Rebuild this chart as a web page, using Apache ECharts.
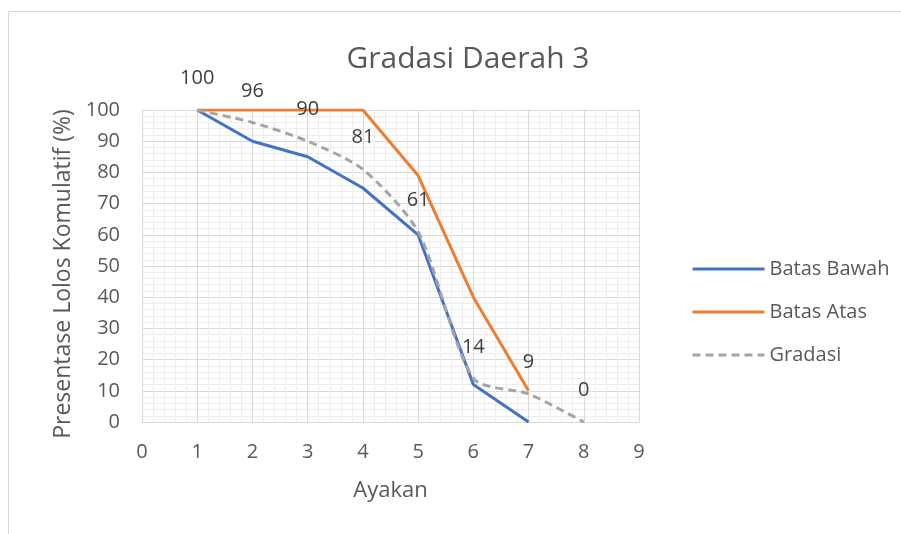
<!DOCTYPE html>
<html>
<head>
<meta charset="utf-8">
<script src="https://cdn.jsdelivr.net/npm/echarts@6/dist/echarts.min.js"></script>
<style>
  html, body { margin: 0; padding: 0; background: #fff; }
  #chart { width: 901px; height: 534px; }
</style>
</head>
<body>
<div id="chart"></div>
<script>
var xTicks = [0, 1, 2, 3, 4, 5, 6, 7, 8, 9];
var yTicks = [0, 10, 20, 30, 40, 50, 60, 70, 80, 90, 100];

var bawahX = [1, 2, 3, 4, 5, 6, 7];
var bawahY = [100, 90, 85, 75, 60, 12, 0];

var atasX = [1, 4, 5, 6, 7];
var atasY = [100, 100, 79, 40, 10];

var gradasiX = [1, 2, 3, 4, 5, 6, 7, 8];
var gradasiY = [100, 96, 90, 81, 61, 14, 9, 0];

function pairs(xs, ys) {
  return xs.map(function (x, i) { return [x, ys[i]]; });
}

var chart = echarts.init(document.getElementById('chart'), null, { renderer: 'canvas' });

var font = '"Open Sans", "Noto Sans", sans-serif';
var textColor = '#595959';

var option = {
  animation: false,
  textStyle: { fontFamily: font },
  graphic: [{
    type: 'rect',
    shape: { x: 8.5, y: 11.5, width: 1000, height: 1000 },
    style: { fill: 'none', stroke: '#d9d9d9', lineWidth: 1 },
    silent: true
  }],
  title: {
    text: 'Gradasi Daerah 3',
    left: 463,
    top: 39,
    textAlign: 'center',
    textStyle: { fontFamily: font, fontSize: 30, fontWeight: 'normal', color: textColor }
  },
  legend: {
    orient: 'vertical',
    left: 686,
    top: 254,
    itemWidth: 72,
    itemHeight: 14,
    itemGap: 23,
    itemStyle: { opacity: 0 },
    lineStyle: { width: 3 },
    textStyle: { fontFamily: font, fontSize: 20, color: textColor },
    data: ['Batas Bawah', 'Batas Atas', 'Gradasi']
  },
  grid: { left: 142, right: 262, top: 110, bottom: 112, containLabel: false },
  xAxis: {
    type: 'value',
    min: xTicks[0],
    max: xTicks[xTicks.length - 1],
    interval: 1,
    name: 'Ayakan',
    nameLocation: 'middle',
    nameGap: 58,
    nameTextStyle: { fontSize: 22, color: textColor },
    axisLine: { show: true, lineStyle: { color: '#d9d9d9', width: 1 } },
    axisTick: { show: false },
    axisLabel: { fontSize: 20, color: textColor, margin: 20 },
    splitLine: { show: true, lineStyle: { color: '#d9d9d9', width: 1 } },
    minorTick: { show: false, splitNumber: 5 },
    minorSplitLine: { show: true, lineStyle: { color: '#ededed', width: 1 } }
  },
  yAxis: {
    type: 'value',
    min: yTicks[0],
    max: yTicks[yTicks.length - 1],
    interval: 10,
    name: 'Presentase Lolos Komulatif (%)',
    nameLocation: 'middle',
    nameGap: 64,
    nameTextStyle: { fontSize: 23, color: textColor, padding: [0, 16, 0, 0] },
    axisLine: { show: true, lineStyle: { color: '#d9d9d9', width: 1 } },
    axisTick: { show: false },
    axisLabel: { fontSize: 20, color: textColor, margin: 22 },
    splitLine: { show: true, lineStyle: { color: '#d9d9d9', width: 1 } },
    minorTick: { show: false, splitNumber: 5 },
    minorSplitLine: { show: true, lineStyle: { color: '#ededed', width: 1 } }
  },
  series: [
    {
      name: 'Batas Bawah',
      type: 'line',
      data: pairs(bawahX, bawahY),
      showSymbol: false,
      color: '#4472C4',
      lineStyle: { width: 3, color: '#4472C4' }
    },
    {
      name: 'Batas Atas',
      type: 'line',
      data: pairs(atasX, atasY),
      showSymbol: false,
      color: '#ED7D31',
      lineStyle: { width: 3, color: '#ED7D31' }
    },
    {
      name: 'Gradasi',
      type: 'line',
      data: pairs(gradasiX, gradasiY),
      smooth: 0.25,
      symbol: 'circle',
      symbolSize: 1,
      showSymbol: true,
      itemStyle: { color: 'rgba(0,0,0,0)', borderWidth: 0 },
      color: '#A5A5A5',
      lineStyle: { width: 3, color: '#A5A5A5', type: [8, 5] },
      label: {
        show: true,
        position: 'top',
        distance: 21,
        fontSize: 20,
        color: '#404040',
        formatter: function (p) { return p.value[1]; }
      },
      z: 3
    }
  ]
};

chart.setOption(option);
</script>
</body>
</html>
